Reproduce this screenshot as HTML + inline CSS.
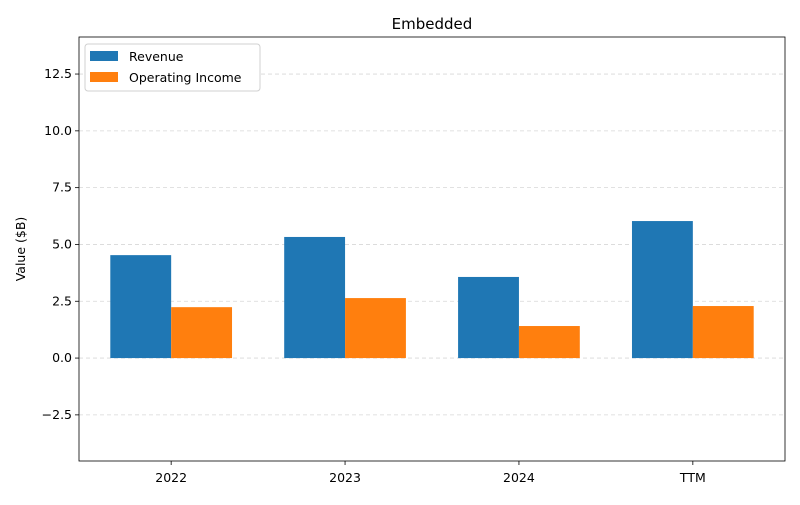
<!DOCTYPE html>
<html><head><meta charset="utf-8"><style>
body{margin:0;background:#fff;font-family:"Liberation Sans","DejaVu Sans",sans-serif}
svg text{font-family:"DejaVu Sans","Liberation Sans",sans-serif}
</style></head><body>
<svg id="chart" width="800" height="500" xmlns="http://www.w3.org/2000/svg"></svg>
<script>
const categories = ["2022","2023","2024","TTM"];
const revenue = [4.53, 5.33, 3.57, 6.03];
const operatingIncome = [2.24, 2.64, 1.41, 2.29];
const yTicks = [-2.5, 0, 2.5, 5, 7.5, 10, 12.5];
const yTickLabels = ["\u22122.5","0.0","2.5","5.0","7.5","10.0","12.5"];

const svg = document.getElementById('chart');
const NS = 'http://www.w3.org/2000/svg';
const L=79,R=785,T=37,B=461;
const yMin=-4.53,yMax=14.13,xMin=-0.53,xMax=3.53;
const y = v => B-(v-yMin)/(yMax-yMin)*(B-T);
const x = v => L+(v-xMin)/(xMax-xMin)*(R-L);
function mk(tag, attrs, parent){const e=document.createElementNS(NS,tag);for(const k in attrs)e.setAttribute(k,attrs[k]);(parent||svg).appendChild(e);return e;}

const grid = mk('g',{});


yTicks.forEach((t,i)=>{
  mk('line',{x1:L,x2:R,y1:y(t),y2:y(t),stroke:'#b0b0b0','stroke-dasharray':'4,3','stroke-opacity':0.5,'stroke-width':0.8},grid);
  mk('line',{x1:L-4,x2:L,y1:y(t),y2:y(t),stroke:'#000','stroke-width':0.8});
  const tx=mk('text',{x:L-7,y:y(t)+4,'text-anchor':'end','font-size':12.5,fill:'#000'});
  tx.textContent=yTickLabels[i];
  
  
});
const w=0.35;
categories.forEach((c,i)=>{
  const r=mk('rect',{x:x(i-w),y:y(revenue[i]),width:x(i)-x(i-w),height:y(0)-y(revenue[i]),fill:'#1f77b4'});
  
  
  const o=mk('rect',{x:x(i),y:y(operatingIncome[i]),width:x(i+w)-x(i),height:y(0)-y(operatingIncome[i]),fill:'#ff7f0e'});
  
  
  mk('line',{x1:x(i),x2:x(i),y1:B,y2:B+4,stroke:'#000','stroke-width':0.8});
  const tx=mk('text',{x:x(i),y:B+21,'text-anchor':'middle','font-size':12.5,fill:'#000'});
  tx.textContent=c;
  
  
});
const frame=mk('rect',{x:L,y:T,width:R-L,height:B-T,fill:'none',stroke:'#000','stroke-width':0.8});


const title=mk('text',{x:(L+R)/2,y:29,'text-anchor':'middle','font-size':15,fill:'#000'});
title.textContent='Embedded';


const yl=mk('text',{x:25,y:(T+B)/2,'text-anchor':'middle','font-size':12.5,fill:'#000',transform:`rotate(-90 25 ${(T+B)/2})`});
yl.textContent='Value ($B)';


const lg=mk('g',{});


mk('rect',{x:85,y:44,width:175,height:47,rx:3,fill:'#fff',stroke:'#d0d0d0','stroke-width':1},lg);
[['Revenue','#1f77b4',51],['Operating Income','#ff7f0e',72]].forEach(([n,c,yy])=>{
  mk('rect',{x:90,y:yy,width:28,height:10,fill:c},lg);
  const t=mk('text',{x:129,y:yy+10,'font-size':12.5,fill:'#000'},lg);
  t.textContent=n;
  
  
});
</script>
</body></html>
